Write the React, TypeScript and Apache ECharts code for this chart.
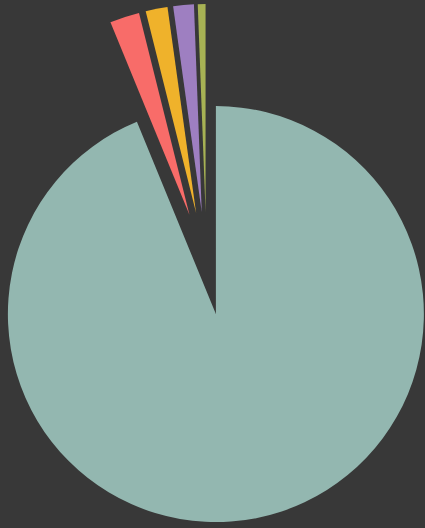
import React, { useEffect, useRef } from "react";
import * as echarts from "echarts";

const categories = ["A", "B", "C", "D", "E"];
const values = [93.8, 2.3, 1.7, 1.6, 0.6];
const colors = ["#93b7b0", "#f86c69", "#efb22b", "#9e7fc1", "#a7b254"];

export default function App() {
  const ref = useRef<HTMLDivElement>(null);
  useEffect(() => {
    document.body.style.margin = "0";
    document.body.style.background = "#383838";
    if (!ref.current) return;
    const chart = echarts.init(ref.current, undefined, { renderer: "svg" });
    const mk = (showIdx: (i: number) => boolean) =>
      categories.map((name, i) => ({
        name,
        value: values[i],
        selected: showIdx(i),
        itemStyle: { color: showIdx(i) ? colors[i] : "rgba(0,0,0,0)" },
      }));
    const common = {
      type: "pie" as const,
      center: [206.6, 267],
      radius: [0, 208],
      startAngle: 90,
      clockwise: true,
      selectedMode: "multiple" as const,
      label: { show: false },
      labelLine: { show: false },
      emphasis: { disabled: true, scale: false },
      silent: true,
      itemStyle: { borderWidth: 0 },
    };
    chart.setOption({
      animation: false,
      backgroundColor: "#383838",
      tooltip: { show: false },
      series: [
        { ...common, selectedOffset: 48, data: mk((i) => i === 0) },
        { ...common, selectedOffset: 55, data: mk((i) => i !== 0) },
      ],
    });
    return () => chart.dispose();
  }, []);
  return (
    <div style={{ position: "fixed", left: 0, top: 0, width: 425, height: 528 }}>
      <div ref={ref} style={{ width: 425, height: 528 }} />
    </div>
  );
}
